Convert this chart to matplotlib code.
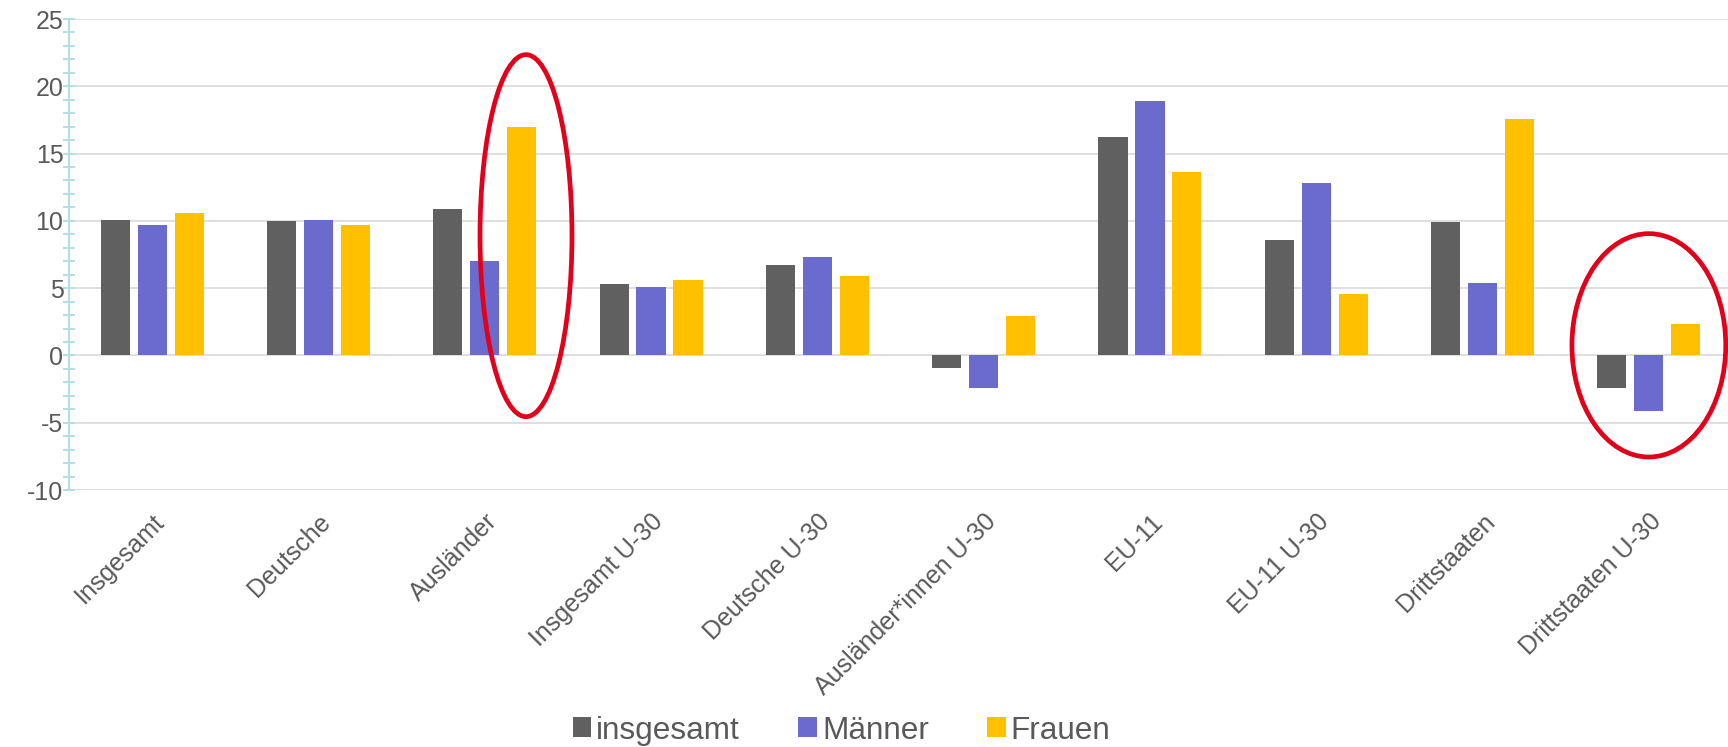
import matplotlib
matplotlib.use('Agg')
import matplotlib.pyplot as plt
import numpy as np
from matplotlib.patches import Ellipse
from matplotlib.ticker import MultipleLocator

plt.rcParams['font.family'] = ['Liberation Sans', 'DejaVu Sans']
plt.rcParams['axes.unicode_minus'] = False

# values
categories = ['Insgesamt', 'Deutsche', 'Ausländer', 'Insgesamt U-30', 'Deutsche U-30',
              'Ausländer*innen U-30', 'EU-11', 'EU-11 U-30', 'Drittstaaten', 'Drittstaaten U-30']
insgesamt = [10.1, 10.0, 10.9, 5.3, 6.7, -0.9, 16.2, 8.6, 9.9, -2.4]
maenner = [9.7, 10.1, 7.0, 5.1, 7.3, -2.4, 18.9, 12.8, 5.4, -4.1]
frauen = [10.6, 9.7, 17.0, 5.6, 5.9, 2.9, 13.6, 4.6, 17.6, 2.3]
series_names = ['insgesamt', 'Männer', 'Frauen']
colors = ['#606060', '#6B6BCD', '#FFC000']

text_col = '#595959'
axis_col = '#B4DEE4'

fig = plt.figure(figsize=(17.28, 7.47), dpi=100)
ax = fig.add_axes([69 / 1728, 257 / 747, 1663 / 1728, 471 / 747])

x = np.arange(len(categories))
step = 0.222
width = 0.175
for i, (vals, name, col) in enumerate(zip([insgesamt, maenner, frauen], series_names, colors)):
    ax.bar(x + (i - 1) * step, vals, width=width, color=col, label=name, zorder=3)

ax.set_xlim(-0.5, 9.5)
ax.set_ylim(-10, 25)
ax.yaxis.set_major_locator(MultipleLocator(5))
ax.yaxis.set_minor_locator(MultipleLocator(1))
ax.grid(axis='y', color='#D9D9D9', linewidth=1.2, zorder=0)
ax.set_axisbelow(True)

for s in ['top', 'right', 'bottom']:
    ax.spines[s].set_visible(False)
ax.spines['left'].set_color(axis_col)
ax.spines['left'].set_linewidth(1.6)

ax.tick_params(axis='y', which='both', direction='inout', length=9, width=1.4,
               color=axis_col, labelsize=18, labelcolor=text_col, pad=-0.5)
ax.tick_params(axis='x', length=0, labelsize=18, labelcolor=text_col, pad=14)

ax.set_xticks(x)
ax.set_xticklabels(categories, rotation=45, ha='right', va='top', rotation_mode='anchor')

# red highlight ellipses
ax.add_patch(Ellipse((2.248, 8.9), 0.553, 26.9, fill=False, edgecolor='#E2001A',
                     linewidth=3.4, zorder=5, clip_on=False))
ax.add_patch(Ellipse((9.0, 0.75), 0.925, 16.6, fill=False, edgecolor='#E2001A',
                     linewidth=3.4, zorder=5, clip_on=False))

leg = fig.legend(loc='center', bbox_to_anchor=(0.487, 0.022), ncol=3, frameon=False,
                 fontsize=22.7, handlelength=0.6, handleheight=0.6, handletextpad=0.15,
                 columnspacing=1.85)
for t in leg.get_texts():
    t.set_color(text_col)

plt.savefig('out.png', dpi=100)
